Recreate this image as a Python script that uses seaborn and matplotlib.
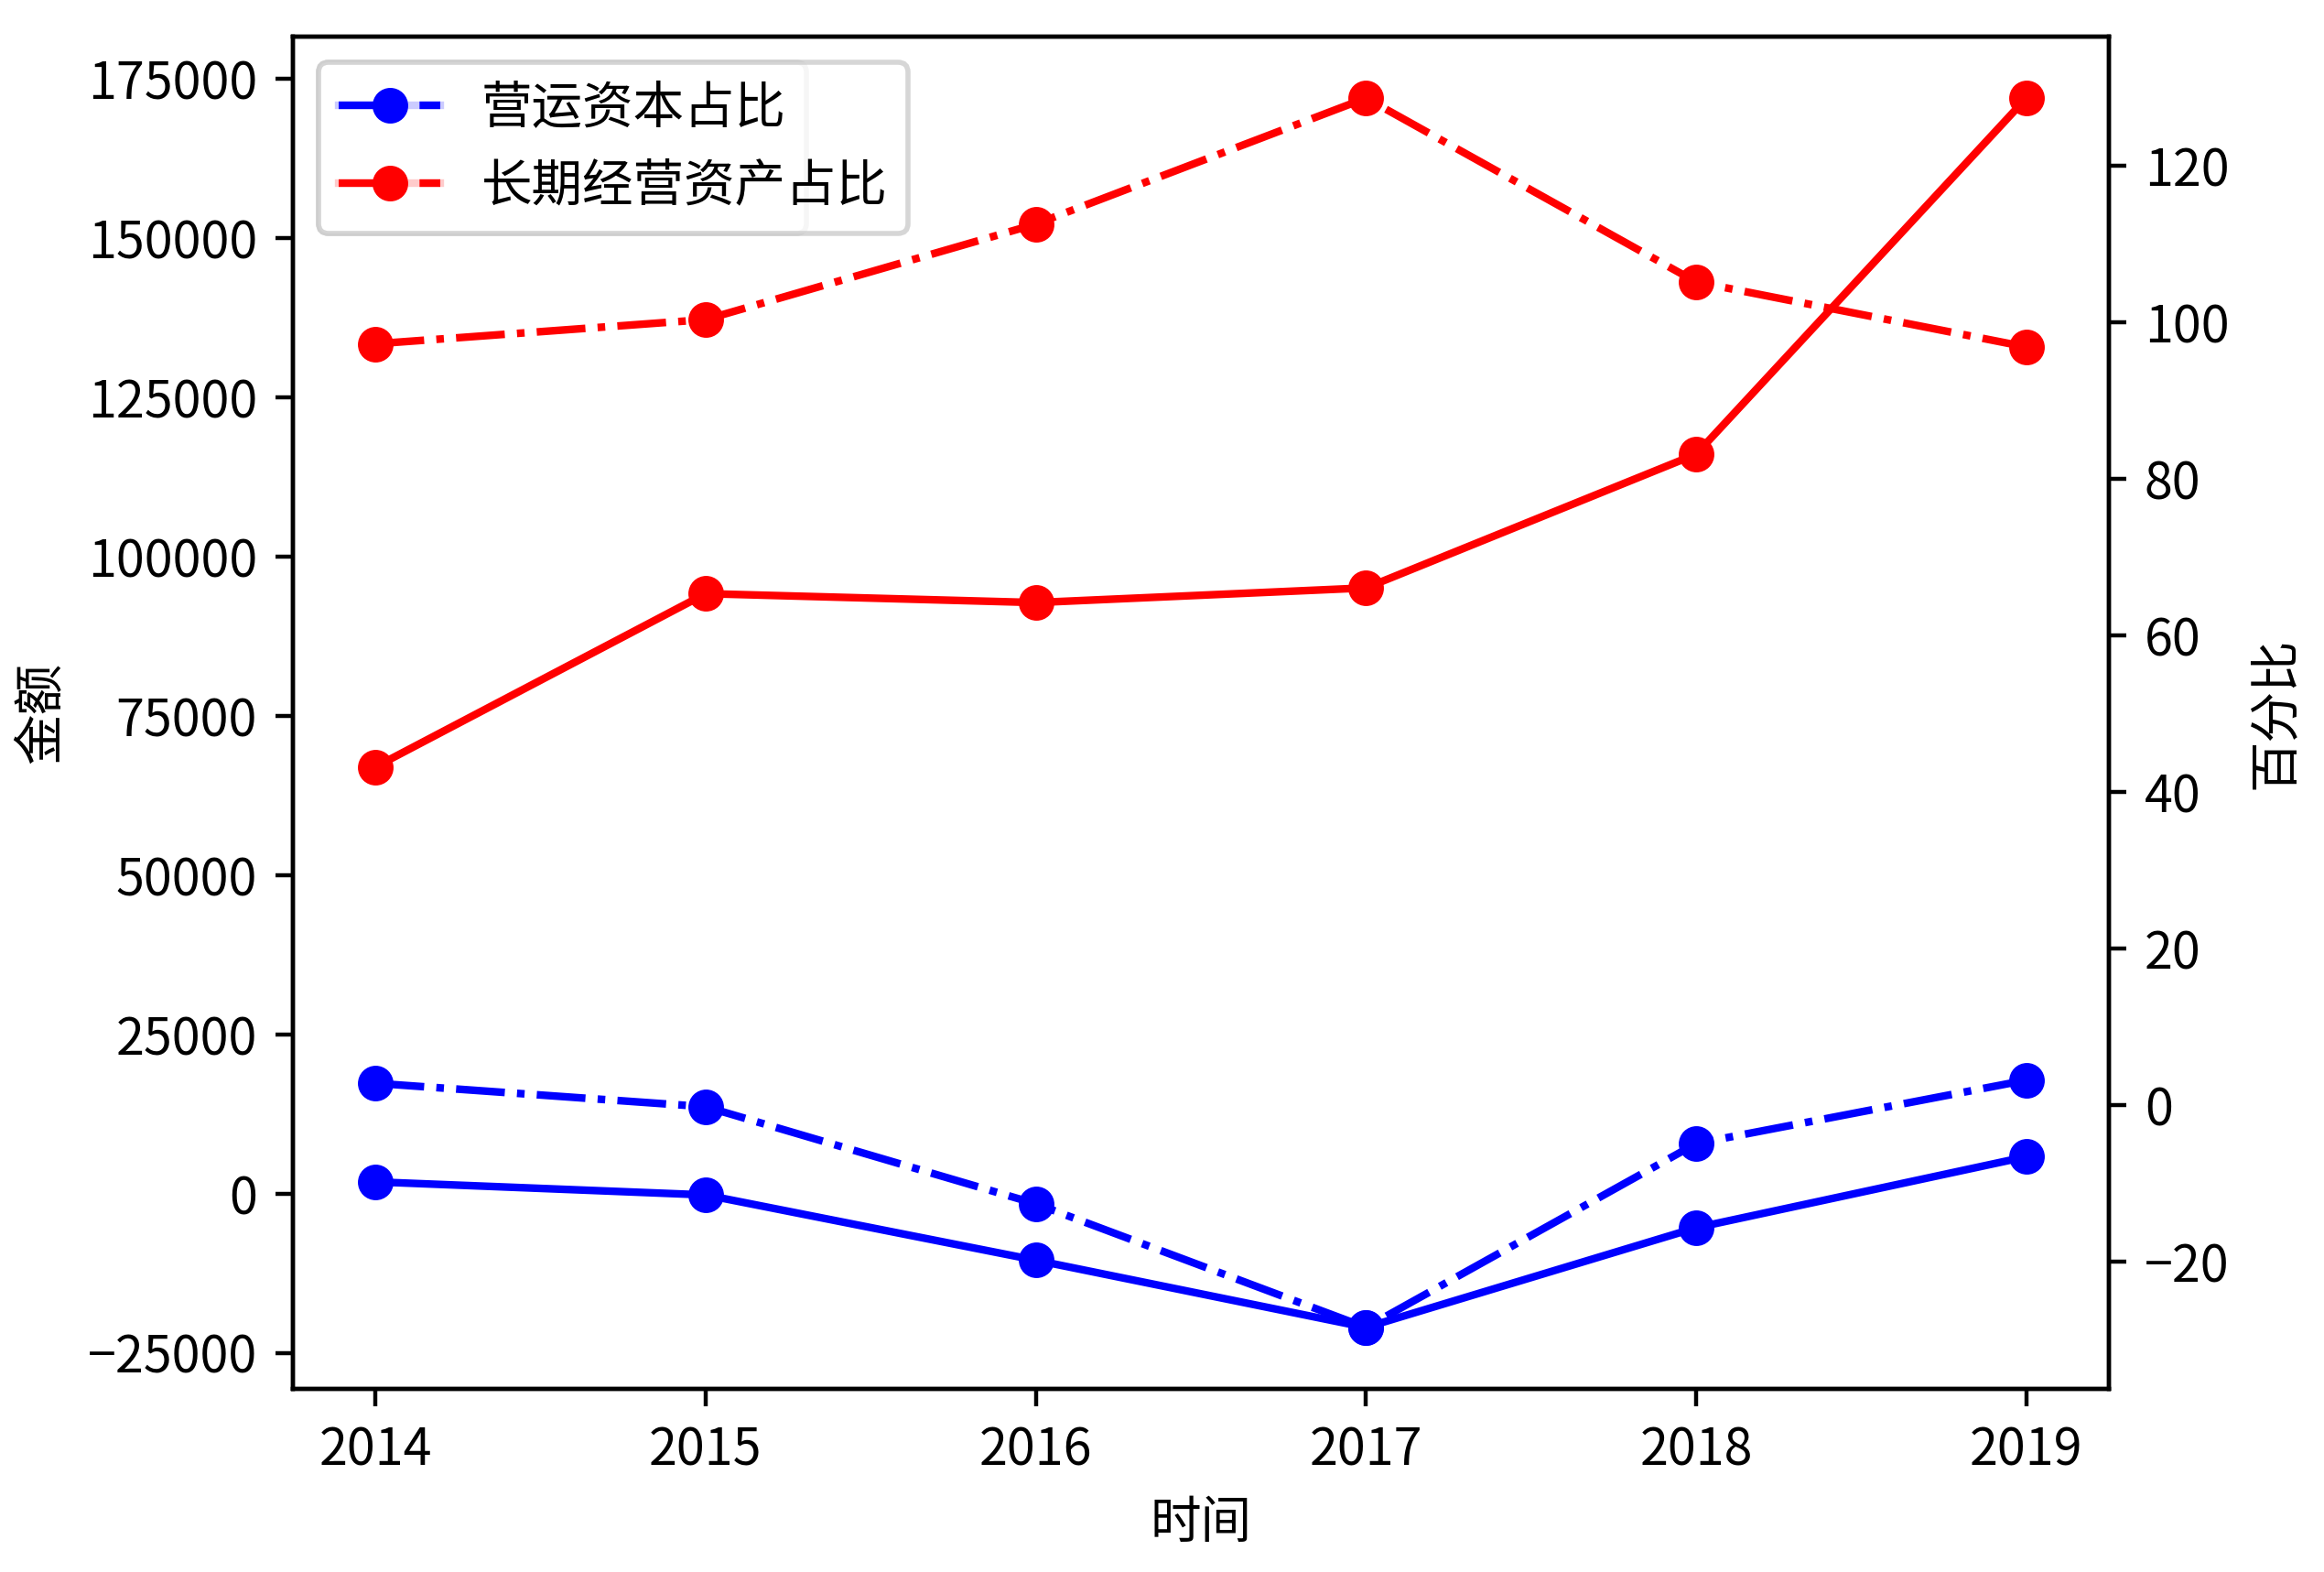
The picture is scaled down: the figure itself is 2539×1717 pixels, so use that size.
import matplotlib
matplotlib.use("Agg")
import matplotlib.pyplot as plt
import seaborn as sns
import pandas as pd

plt.rcParams['font.family'] = ['Noto Sans CJK SC', 'DejaVu Sans']
plt.rcParams['axes.unicode_minus'] = True

years = [2014, 2015, 2016, 2017, 2018, 2019]
wc_amount = [1850, -200, -10450, -21000, -5350, 5800]
lt_amount = [67000, 94200, 92800, 95100, 116100, 172000]
wc_pct = [2.8, -0.2, -12.6, -28.4, -4.9, 3.2]
lt_pct = [97.3, 100.4, 112.6, 128.7, 105.2, 96.9]

labels_amt = ["营运资本", "长期经营资产"]
labels_pct = ["营运资本占比", "长期经营资产占比"]

df = pd.DataFrame({"year": years, "wc": wc_amount, "lt": lt_amount,
                   "wcp": wc_pct, "ltp": lt_pct})

fig = plt.figure(figsize=(2539 / 400, 1717 / 400), dpi=400)
ax = fig.add_axes([320 / 2539, 200 / 1717, 1984 / 2539, 1477 / 1717])

mk = dict(marker='o', markersize=6, markeredgewidth=1)
sns.lineplot(data=df, x="year", y="wc", ax=ax, color='blue', linestyle='-',
             markeredgecolor='blue', label=labels_amt[0], legend=False, **mk)
sns.lineplot(data=df, x="year", y="lt", ax=ax, color='red', linestyle='-',
             markeredgecolor='red', label=labels_amt[1], legend=False, **mk)
ax.set_xlabel("时间")
ax.set_ylabel("金额")
ax.set_xticks(years)
ax.set_xticklabels([str(y) for y in years])

ax2 = ax.twinx()
sns.lineplot(data=df, x="year", y="wcp", ax=ax2, color='blue', linestyle='-.',
             markeredgecolor='blue', label=labels_pct[0], legend=False, **mk)
sns.lineplot(data=df, x="year", y="ltp", ax=ax2, color='red', linestyle='-.',
             markeredgecolor='red', label=labels_pct[1], legend=False, **mk)
ax2.set_ylabel("百分比")

h1 = ax.get_lines()
ax.legend(h1, labels_amt, loc='upper left')
h2 = ax2.get_lines()
ax2.legend(h2, labels_pct, loc='upper left')

ax.set_xlim(2013.75, 2019.25)

fig.savefig("out.png", dpi=400)
